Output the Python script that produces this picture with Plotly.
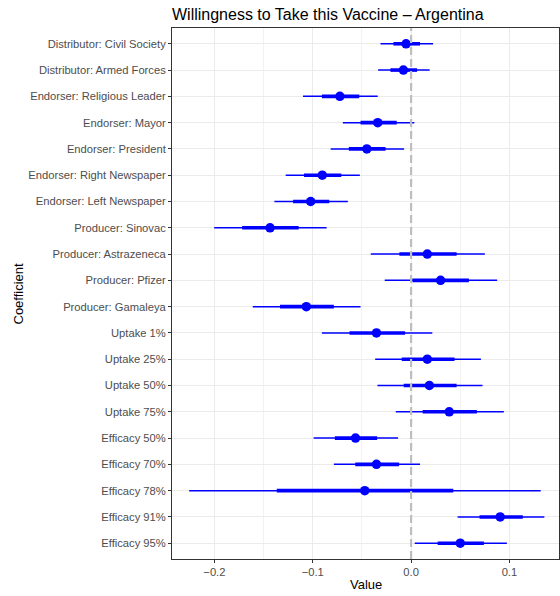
import plotly.graph_objects as go

# Coefficient estimates with ~1 SE (inner) and ~2 SE (outer) intervals
coefficients = [
    "Distributor: Civil Society", "Distributor: Armed Forces",
    "Endorser: Religious Leader", "Endorser: Mayor", "Endorser: President",
    "Endorser: Right Newspaper", "Endorser: Left Newspaper",
    "Producer: Sinovac", "Producer: Astrazeneca", "Producer: Pfizer",
    "Producer: Gamaleya", "Uptake 1%", "Uptake 25%", "Uptake 50%",
    "Uptake 75%", "Efficacy 50%", "Efficacy 70%", "Efficacy 78%",
    "Efficacy 91%", "Efficacy 95%",
]
estimate = [-0.0051, -0.0078, -0.0724, -0.0339, -0.0450, -0.0903, -0.1021,
            -0.1434, 0.0165, 0.0300, -0.1065, -0.0352, 0.0165, 0.0186,
            0.0388, -0.0565, -0.0352, -0.0471, 0.0906, 0.0500]
inner_low = [-0.0179, -0.0210, -0.0907, -0.0514, -0.0633, -0.1089, -0.1200,
             -0.1718, -0.0119, 0.0013, -0.1333, -0.0626, -0.0095, -0.0075,
             0.0118, -0.0775, -0.0568, -0.1366, 0.0696, 0.0270]
inner_high = [0.0091, 0.0061, -0.0527, -0.0146, -0.0260, -0.0710, -0.0832,
              -0.1143, 0.0463, 0.0588, -0.0785, -0.0061, 0.0442, 0.0463,
              0.0669, -0.0345, -0.0122, 0.0429, 0.1136, 0.0740]
outer_low = [-0.0311, -0.0335, -0.1099, -0.0694, -0.0818, -0.1275, -0.1390,
             -0.2002, -0.0410, -0.0268, -0.1610, -0.0907, -0.0365, -0.0342,
             -0.0156, -0.0991, -0.0785, -0.2256, 0.0473, 0.0037]
outer_high = [0.0223, 0.0189, -0.0339, 0.0033, -0.0071, -0.0521, -0.0643,
              -0.0859, 0.0750, 0.0875, -0.0514, 0.0216, 0.0710, 0.0726,
              0.0943, -0.0132, 0.0091, 0.1318, 0.1355, 0.0974]

x_ticks = [-0.2, -0.1, 0.0, 0.1]
x_tick_text = ["\u22120.2", "\u22120.1", "0.0", "0.1"]

BLUE = "#0000FF"


def segments(lo, hi, cats):
    xs, ys = [], []
    for a, b, c in zip(lo, hi, cats):
        xs += [a, b, None]
        ys += [c, c, None]
    return xs, ys


fig = go.Figure()

ox, oy = segments(outer_low, outer_high, coefficients)
fig.add_trace(go.Scatter(x=ox, y=oy, mode="lines",
                         line=dict(color=BLUE, width=1.5), hoverinfo="skip"))
ix, iy = segments(inner_low, inner_high, coefficients)
fig.add_trace(go.Scatter(x=ix, y=iy, mode="lines",
                         line=dict(color=BLUE, width=3.6), hoverinfo="skip"))
fig.add_trace(go.Scatter(x=estimate, y=coefficients, mode="markers",
                         marker=dict(color=BLUE, size=9.5, line=dict(width=0))))

# Reference line at zero
fig.add_shape(type="line", x0=0, x1=0, y0=0, y1=1, xref="x", yref="paper",
              line=dict(color="#BEBEBE", width=2.2, dash="8px,4px"),
              layer="above")

n = len(coefficients)
fig.update_layout(
    width=560, height=596,
    margin=dict(l=172, r=1, t=28, b=37),
    paper_bgcolor="white", plot_bgcolor="white",
    showlegend=False,
    font=dict(family="Liberation Sans, Arial, sans-serif", color="#000000"),
    title=dict(text="Willingness to Take this Vaccine \u2013 Argentina",
               x=0, xref="paper", xanchor="left",
               y=1 - 14.5 / 596, yref="container", yanchor="middle",
               font=dict(size=16, color="#000000")),
    xaxis=dict(
        range=[-0.2431, 0.1504], tickvals=x_ticks, ticktext=x_tick_text,
        showgrid=True, gridcolor="#EBEBEB", gridwidth=1.1,
        minor=dict(dtick=0.05, tick0=0.05, showgrid=True,
                   gridcolor="#F2F2F2", gridwidth=0.6),
        zeroline=False, showline=True, linecolor="#333333", linewidth=1,
        mirror=True, ticks="outside", ticklen=3, tickcolor="#333333",
        tickfont=dict(size=11.2, color="#4D4D4D"),
    ),
    yaxis=dict(
        type="category", categoryarray=coefficients,
        range=[n - 0.4, -0.6],
        showgrid=True, gridcolor="#EBEBEB", gridwidth=1.1,
        zeroline=False, showline=True, linecolor="#333333", linewidth=1,
        mirror=True, ticks="outside", ticklen=3, tickcolor="#333333",
        tickfont=dict(size=11.2, color="#4D4D4D"),
    ),
    annotations=[
        dict(text="Value", x=0.5, y=0, xref="paper", yref="paper",
             xanchor="center", yanchor="middle", yshift=-25,
             showarrow=False, font=dict(size=13, color="#000000")),
        dict(text="Coefficient", x=0, xref="paper", xshift=-154,
             y=0.5, yref="paper", xanchor="center", yanchor="middle",
             textangle=-90, showarrow=False,
             font=dict(size=13, color="#000000")),
    ],
)

fig.write_html("out.html")
